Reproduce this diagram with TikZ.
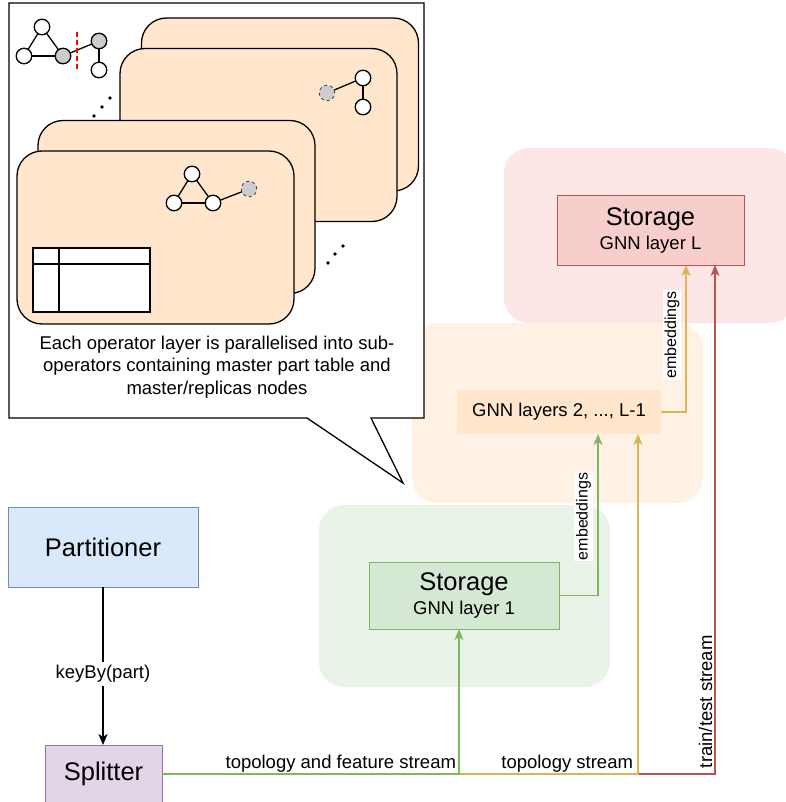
\documentclass[tikz,border=0pt]{standalone}
\usepackage{fontspec}
\setmainfont{Liberation Sans}
\usetikzlibrary{arrows.meta}
\definecolor{peach}{HTML}{FFE6CC}
\definecolor{redfill}{HTML}{F8CECC}
\definecolor{redline}{HTML}{B85450}
\definecolor{redgrp}{RGB}{252,230,230}
\definecolor{orggrp}{RGB}{255,241,227}
\definecolor{grngrp}{RGB}{233,243,232}
\definecolor{grnfill}{HTML}{D5E8D4}
\definecolor{grnline}{HTML}{82B366}
\definecolor{yelline}{HTML}{D6B656}
\definecolor{bluefill}{HTML}{DAE8FC}
\definecolor{blueline}{HTML}{6C8EBF}
\definecolor{purfill}{HTML}{E1D5E7}
\definecolor{purline}{HTML}{9673A6}
\definecolor{graynode}{RGB}{204,204,204}
\begin{document}
\begin{tikzpicture}[x=1pt,y=-1pt,
  every node/.style={inner sep=0pt, outer sep=0pt},
  grp/.style={rounded corners=25pt, minimum width=291pt},
  card/.style={draw=black, line width=1.3pt, fill=peach, rounded corners=25pt, minimum width=277pt, minimum height=173pt},
  gn/.style={circle, draw=black, line width=1.3pt, fill=white, minimum size=15.5pt},
  gg/.style={gn, fill=graynode},
  gd/.style={gn, fill=graynode, dashed, draw=black!75, line width=0.8pt},
  ge/.style={line width=1.3pt, draw=black},
  lbl/.style={font=\fontsize{18.5}{22}\selectfont},
  big/.style={font=\fontsize{25.5}{30}\selectfont},
  emb/.style={font=\fontsize{16}{19}\selectfont, rotate=90, fill=white, inner xsep=1pt, inner ysep=2pt},
  arr/.style={line width=1.2pt, -{Stealth[length=11pt,width=9pt,inset=3pt]}},
]
\useasboundingbox (0,0) rectangle (785,802);

% groups
\node[grp, fill=redgrp, minimum height=175pt] (gL) at (649.5,235.5) {};
\node[grp, fill=orggrp, minimum height=180pt] (gM) at (557.5,413) {};
\node[grp, fill=grngrp, minimum height=182pt] (g1) at (464.5,596) {};

% callout
\draw[line width=1.3pt, fill=white] (9,3) -- (424,3) -- (424,418) -- (371,418) -- (403,483) -- (307,418) -- (9,418) -- cycle;

% top-left graph
\node[gn] (a1) at (42,27) {};
\node[gn] (a2) at (24,56) {};
\node[gg] (a3) at (63,56) {};
\node[gg] (a4) at (99,41) {};
\node[gn] (a5) at (99,70) {};
\draw[ge] (a1) -- (a2);
\draw[ge] (a1) -- (a3);
\draw[ge] (a2) -- (a3);
\draw[ge] (a3) -- (a4);
\draw[ge] (a4) -- (a5);
\draw[red, line width=1.2pt, dash pattern=on 5pt off 3pt] (77,32) -- (77,71);

% dots
\foreach \px/\py in {94/116,102/107,110/98,328/263,335/254,343/246}
  \fill (\px,\py) circle (1.8pt);

% cards
\node[card] (card1) at (280,104.5) {};
\node[card] (card2) at (258.5,135) {};
\node[card] (card3) at (176.5,207) {};
\node[card] (card4) at (155.5,237.5) {};

% card2 graph
\node[gn] (b2) at (363,78) {};
\node[gn] (b3) at (363,107) {};
\draw[ge] (327,93) -- (b2);
\node[gd] (b1) at (327,93) {};
\draw[ge] (b2) -- (b3);

% card4 graph
\node[gn] (c1) at (192,174) {};
\node[gn] (c2) at (174,203) {};
\node[gn] (c3) at (213,203) {};
\node[gd] (c4) at (249,189) {};
\draw[ge] (c1) -- (c2);
\draw[ge] (c1) -- (c3);
\draw[ge] (c2) -- (c3);
\draw[ge] (c3) -- (c4);

% table
\node[draw=black, fill=white, line width=1.2pt, minimum width=117pt, minimum height=64pt] (tbl) at (91.5,280) {};
\draw[line width=1.2pt] ([yshift=-16pt]tbl.north west) -- ([yshift=-16pt]tbl.north east);
\draw[line width=1.2pt] ([xshift=26pt]tbl.north west) -- ([xshift=26pt]tbl.south west);

% callout text
\node[lbl, align=center, font=\fontsize{18.5}{22.5}\selectfont] (ctext) at (217,367)
  {Each operator layer is parallelised into sub-\\operators containing master part table and\\master/replicas nodes};

% main boxes
\node[draw=redline, fill=redfill, line width=1pt, minimum width=187pt, minimum height=69pt, align=center] (storL) at (650.5,230.5)
  {{\fontsize{25.5}{30}\selectfont Storage}\\[4pt]{\fontsize{18.5}{22}\selectfont GNN layer L}};
\node[fill=peach, minimum width=204pt, minimum height=44pt, lbl] (gnn) at (559,412) {GNN layers 2, ..., L-1};
\node[draw=grnline, fill=grnfill, line width=1pt, minimum width=190pt, minimum height=67pt, align=center] (stor1) at (464,595.5)
  {{\fontsize{25.5}{30}\selectfont Storage}\\[4pt]{\fontsize{18.5}{22}\selectfont GNN layer 1}};
\node[draw=blueline, fill=bluefill, line width=1pt, minimum width=190pt, minimum height=80pt, big] (part) at (103,547) {Partitioner};
\node[draw=purline, fill=purfill, line width=1pt, minimum width=117pt, minimum height=58pt, big] (split) at (103.5,774) {Splitter};

% connectors
\draw[arr, black] (part.south) -- node[pos=0.55, fill=white, lbl, inner ysep=3pt] (kb) {keyBy(part)} (part.south |- split.north);
\draw[arr, redline] (split.east) -| ([xshift=64.5pt]storL.south);
\draw[arr, yelline] (split.east) -| ([xshift=79pt]gnn.south);
\draw[arr, grnline] (split.east) -| ([xshift=-5pt]stor1.south);
\draw[arr, grnline] (stor1.east) -| ([xshift=39pt]gnn.south);
\draw[arr, yelline] (gnn.east) -| ([xshift=35.5pt]storL.south);

% labels
\node[lbl, anchor=base east] (l1) at (456,768) {topology and feature stream};
\node[lbl, anchor=base east] (l2) at (633,768) {topology stream};
\node[lbl, anchor=base west, rotate=90] (l3) at (712,768) {train/test stream};
\node[emb] (e1) at (583.5,516.5) {embeddings};
\node[emb] (e2) at (672,335) {embeddings};
\end{tikzpicture}
\end{document}
